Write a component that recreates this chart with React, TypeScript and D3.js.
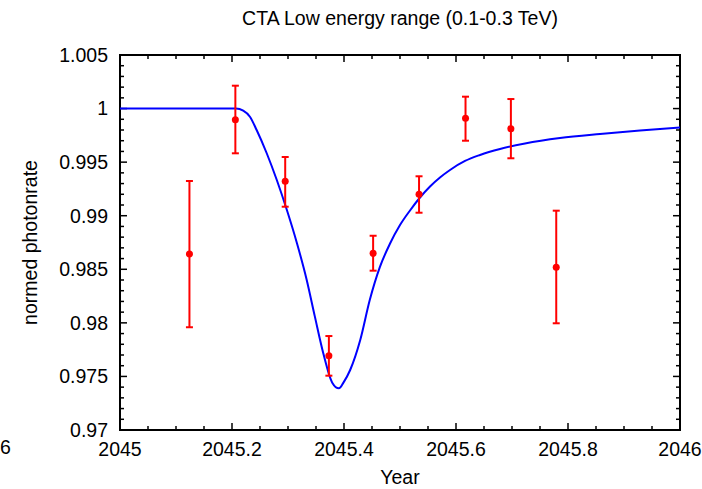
import React from "react";
import * as d3 from "d3";

const title = "CTA Low energy range (0.1-0.3 TeV)";
const xLabel = "Year";
const yLabel = "normed photonrate";

const obsYear = [2045.124, 2045.206, 2045.295, 2045.373, 2045.452, 2045.534, 2045.617, 2045.698, 2045.779];
const obsValue = [0.98643, 0.99896, 0.99321, 0.97694, 0.98649, 0.992, 0.99909, 0.99812, 0.98519];
const obsLow = [0.97959, 0.995825, 0.99084, 0.97507, 0.98487, 0.99028, 0.997, 0.99536, 0.97996];
const obsHigh = [0.99324, 1.002135, 0.99548, 0.97877, 0.98813, 0.99368, 1.00111, 1.00089, 0.99047];

const modelYear = [
  2045.0, 2045.1, 2045.207, 2045.22, 2045.232, 2045.244, 2045.262, 2045.28, 2045.298, 2045.316,
  2045.333, 2045.348, 2045.363, 2045.379, 2045.391, 2045.399, 2045.411, 2045.429, 2045.446,
  2045.464, 2045.482, 2045.5, 2045.5179, 2045.5357, 2045.5536, 2045.5714, 2045.5893, 2045.6161,
  2045.6429, 2045.6786, 2045.7232, 2045.7857, 2045.8571, 2045.9286, 2046.0,
];
const modelValue = [
  1.0, 1.0, 1.0, 0.9998, 0.99924, 0.998, 0.99583, 0.99333, 0.99053, 0.98743,
  0.9841, 0.98058, 0.97716, 0.97442, 0.97389, 0.97442, 0.9756, 0.9784, 0.98213,
  0.9852, 0.98738, 0.98913, 0.99049, 0.9917, 0.99273, 0.99357, 0.99427, 0.99511,
  0.99567, 0.99623, 0.99674, 0.99725, 0.99763, 0.99795, 0.99823,
];

const xTicks = [2045, 2045.2, 2045.4, 2045.6, 2045.8, 2046];
const yTicks = [0.97, 0.975, 0.98, 0.985, 0.99, 0.995, 1, 1.005];
const yTickLabels = ["0.97", "0.975", "0.98", "0.985", "0.99", "0.995", "1", "1.005"];
const xTickLabels = ["2045", "2045.2", "2045.4", "2045.6", "2045.8", "2046"];

const W = 702;
const H = 489;
const L = 120, R = 680, T = 55, B = 430;
const FONT = "'Liberation Sans', Arial, sans-serif";
const FS = 19.5;

export default function App() {
  const x = d3.scaleLinear().domain([2045, 2046]).range([L, R]);
  const y = d3.scaleLinear().domain([0.97, 1.005]).range([B, T]);

  const line = d3
    .line<number>()
    .x((_, i) => x(modelYear[i]))
    .y((v) => y(v))
    .curve(d3.curveMonotoneX);

  const xMinor = d3.range(0, 21).map((i) => 2045 + i * 0.05);
  const yMinor = d3.range(0, 36).map((i) => 0.97 + i * 0.001);
  const isMajorX = (v: number) => xTicks.some((t) => Math.abs(t - v) < 1e-6);
  const isMajorY = (v: number) => yTicks.some((t) => Math.abs(t - v) < 1e-7);

  return (
    <svg width={W} height={H} style={{ position: "absolute", left: 0, top: 0, background: "#fff" }}>
      <rect x={0} y={0} width={W} height={H} fill="#fff" />
      <defs>
        <clipPath id="plot">
          <rect x={L} y={T} width={R - L} height={B - T} />
        </clipPath>
      </defs>
      {xMinor.map((v, i) => {
        const len = isMajorX(v) ? 7 : 4;
        return (
          <g key={"xt" + i} stroke="#000" strokeWidth={1.5}>
            <line x1={x(v)} x2={x(v)} y1={B} y2={B - len} />
            <line x1={x(v)} x2={x(v)} y1={T} y2={T + len} />
          </g>
        );
      })}
      {yMinor.map((v, i) => {
        const len = isMajorY(v) ? 7 : 4;
        return (
          <g key={"yt" + i} stroke="#000" strokeWidth={1.5}>
            <line x1={L} x2={L + len} y1={y(v)} y2={y(v)} />
            <line x1={R} x2={R - len} y1={y(v)} y2={y(v)} />
          </g>
        );
      })}
      <rect x={L} y={T} width={R - L} height={B - T} fill="none" stroke="#000" strokeWidth={2} />

      <g clipPath="url(#plot)">
        <path d={line(modelValue) || ""} fill="none" stroke="#0000ff" strokeWidth={2} />
      </g>

      {obsYear.map((yr, i) => {
        const cx = x(yr);
        return (
          <g key={"p" + i} stroke="#ff0000" strokeWidth={2}>
            <line x1={cx} x2={cx} y1={y(obsLow[i])} y2={y(obsHigh[i])} />
            <line x1={cx - 3.5} x2={cx + 3.5} y1={y(obsLow[i])} y2={y(obsLow[i])} />
            <line x1={cx - 3.5} x2={cx + 3.5} y1={y(obsHigh[i])} y2={y(obsHigh[i])} />
            <circle cx={cx} cy={y(obsValue[i])} r={3.5} fill="#ff0000" stroke="none" />
          </g>
        );
      })}

      <g fontFamily={FONT} fontSize={FS} fill="#000">
        {yTicks.map((v, i) => (
          <text key={"yl" + i} x={108} y={y(v)} dy="0.35em" textAnchor="end">
            {yTickLabels[i]}
          </text>
        ))}
        {xTicks.map((v, i) => (
          <text key={"xl" + i} x={x(v)} y={456} textAnchor="middle">
            {xTickLabels[i]}
          </text>
        ))}
        <text x={0} y={454}>6</text>
        <text x={(L + R) / 2} y={484} textAnchor="middle">{xLabel}</text>
        <text transform={`translate(37,${(T + B) / 2}) rotate(-90)`} textAnchor="middle">{yLabel}</text>
        <text x={(L + R) / 2} y={25} textAnchor="middle">{title}</text>
      </g>
    </svg>
  );
}
